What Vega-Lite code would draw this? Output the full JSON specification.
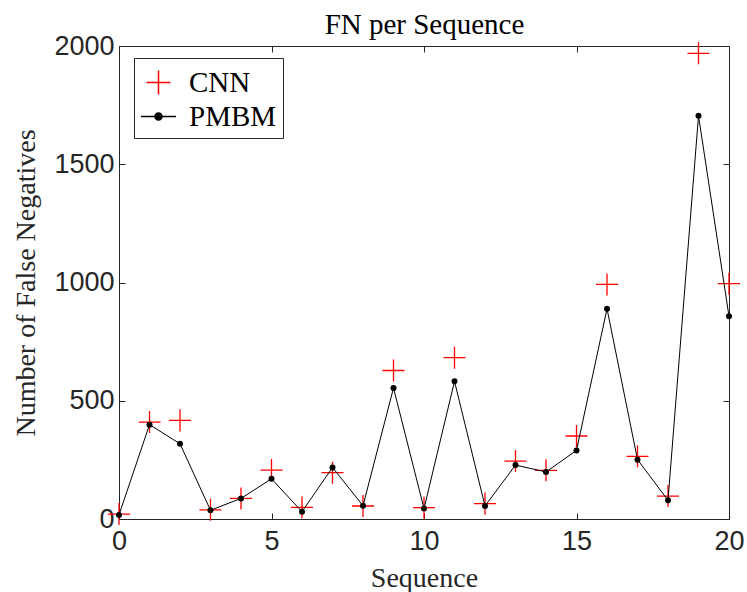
{
  "$schema": "https://vega.github.io/schema/vega-lite/v6.json",
  "width": 610,
  "height": 473,
  "autosize": {"type": "none"},
  "padding": {"left": 119, "top": 46, "right": 18, "bottom": 73},
  "background": "white",
  "config": {
    "view": {"stroke": "#262626", "strokeWidth": 1},
    "axis": {
      "domainColor": "#262626",
      "tickColor": "#262626",
      "labelColor": "#262626",
      "labelFont": "Liberation Sans",
      "labelFontSize": 27,
      "labelFlush": false,
      "labelOverlap": false,
      "titleFont": "Liberation Serif",
      "titleFontSize": 28,
      "titleFontWeight": "normal",
      "titleColor": "#262626",
      "grid": false
    }
  },
  "data": {
    "values": [
      {"seq": 0, "series": "CNN", "value": 21},
      {"seq": 1, "series": "CNN", "value": 410},
      {"seq": 2, "series": "CNN", "value": 417},
      {"seq": 3, "series": "CNN", "value": 39},
      {"seq": 4, "series": "CNN", "value": 87},
      {"seq": 5, "series": "CNN", "value": 207},
      {"seq": 6, "series": "CNN", "value": 49},
      {"seq": 7, "series": "CNN", "value": 196},
      {"seq": 8, "series": "CNN", "value": 55},
      {"seq": 9, "series": "CNN", "value": 628},
      {"seq": 10, "series": "CNN", "value": 48},
      {"seq": 11, "series": "CNN", "value": 682},
      {"seq": 12, "series": "CNN", "value": 65},
      {"seq": 13, "series": "CNN", "value": 245},
      {"seq": 14, "series": "CNN", "value": 206},
      {"seq": 15, "series": "CNN", "value": 351},
      {"seq": 16, "series": "CNN", "value": 992},
      {"seq": 17, "series": "CNN", "value": 265},
      {"seq": 18, "series": "CNN", "value": 97},
      {"seq": 19, "series": "CNN", "value": 1969},
      {"seq": 20, "series": "CNN", "value": 995},
      {"seq": 0, "series": "PMBM", "value": 17},
      {"seq": 1, "series": "PMBM", "value": 399},
      {"seq": 2, "series": "PMBM", "value": 318},
      {"seq": 3, "series": "PMBM", "value": 37},
      {"seq": 4, "series": "PMBM", "value": 87},
      {"seq": 5, "series": "PMBM", "value": 170},
      {"seq": 6, "series": "PMBM", "value": 31},
      {"seq": 7, "series": "PMBM", "value": 218},
      {"seq": 8, "series": "PMBM", "value": 56},
      {"seq": 9, "series": "PMBM", "value": 554},
      {"seq": 10, "series": "PMBM", "value": 44},
      {"seq": 11, "series": "PMBM", "value": 582},
      {"seq": 12, "series": "PMBM", "value": 55},
      {"seq": 13, "series": "PMBM", "value": 228},
      {"seq": 14, "series": "PMBM", "value": 199},
      {"seq": 15, "series": "PMBM", "value": 290},
      {"seq": 16, "series": "PMBM", "value": 889},
      {"seq": 17, "series": "PMBM", "value": 251},
      {"seq": 18, "series": "PMBM", "value": 79},
      {"seq": 19, "series": "PMBM", "value": 1705},
      {"seq": 20, "series": "PMBM", "value": 857}
    ]
  },
  "layer": [
    {
      "transform": [{"filter": "datum.series === 'CNN'"}],
      "mark": {"type": "point", "size": 1030, "filled": false, "strokeWidth": 1.3, "opacity": 1, "clip": false},
      "encoding": {
        "x": {
          "field": "seq", "type": "quantitative",
          "scale": {"domain": [0, 20], "nice": false, "zero": false},
          "axis": {
            "orient": "bottom", "values": [0, 5, 10, 15, 20], "tickSize": -6, "labelPadding": 15,
            "title": "Sequence", "titleX": 305, "titleY": 67, "titleBaseline": "alphabetic", "titleAnchor": "middle", "titleAlign": "center"
          }
        },
        "y": {
          "field": "value", "type": "quantitative",
          "scale": {"domain": [0, 2000], "nice": false},
          "axis": {
            "orient": "left", "values": [0, 500, 1000, 1500, 2000], "format": "d", "tickSize": -6, "labelPadding": 11,
            "title": "Number of False Negatives", "titleX": -85, "titleY": 236.5, "titleAngle": -90, "titleBaseline": "alphabetic", "titleAlign": "center"
          }
        },
        "color": {
          "field": "series", "type": "nominal",
          "scale": {"domain": ["CNN", "PMBM"], "range": ["#ff0000", "#000000"]},
          "legend": {
            "title": null,
            "orient": "none",
            "legendX": 15,
            "legendY": 12,
            "fillColor": "white",
            "strokeColor": "#262626",
            "padding": 6,
            "labelFont": "Liberation Serif",
            "labelFontSize": 29,
            "labelColor": "#000000",
            "labelOffset": 12,
            "symbolSize": 1225,
            "rowPadding": 0,
            "labelLimit": 300,
            "encode": {
              "symbols": {
                "fill": {"value": {"signal": "datum.value === 'PMBM' ? '#000000' : 'transparent'"}},
                "stroke": {"value": {"signal": "datum.value === 'PMBM' ? '#000000' : '#ff0000'"}},
                "strokeWidth": {"value": {"signal": "datum.value === 'PMBM' ? 1 : 1.3"}},
                "opacity": {"value": 1}
              }
            }
          }
        },
        "shape": {
          "field": "series", "type": "nominal",
          "scale": {"domain": ["CNN", "PMBM"], "range": ["M-0.686,0L0.686,0M0,-0.686L0,0.686", "M-1,0L1,0M-0.2,0A0.2,0.2,0,1,1,0.2,0A0.2,0.2,0,1,1,-0.2,0Z"]},
          "legend": {
            "title": null,
            "orient": "none",
            "legendX": 15,
            "legendY": 12,
            "fillColor": "white",
            "strokeColor": "#262626",
            "padding": 6,
            "labelFont": "Liberation Serif",
            "labelFontSize": 29,
            "labelColor": "#000000",
            "labelOffset": 12,
            "symbolSize": 1225,
            "rowPadding": 0,
            "labelLimit": 300,
            "encode": {
              "symbols": {
                "fill": {"value": {"signal": "datum.value === 'PMBM' ? '#000000' : 'transparent'"}},
                "stroke": {"value": {"signal": "datum.value === 'PMBM' ? '#000000' : '#ff0000'"}},
                "strokeWidth": {"value": {"signal": "datum.value === 'PMBM' ? 1 : 1.3"}},
                "opacity": {"value": 1}
              }
            }
          }
        }
      }
    },
    {
      "transform": [{"filter": "datum.series === 'PMBM'"}],
      "mark": {"type": "line", "color": "#000000", "strokeWidth": 1, "clip": false},
      "encoding": {
        "x": {"field": "seq", "type": "quantitative", "axis": null},
        "y": {"field": "value", "type": "quantitative", "axis": null}
      }
    },
    {
      "transform": [{"filter": "datum.series === 'PMBM'"}],
      "mark": {"type": "point", "shape": "circle", "size": 36, "filled": true, "opacity": 1, "clip": false},
      "encoding": {
        "x": {"field": "seq", "type": "quantitative", "axis": null},
        "y": {"field": "value", "type": "quantitative", "axis": null},
        "color": {"field": "series", "type": "nominal", "legend": null}
      }
    },
    {
      "mark": {"type": "point", "opacity": 0},
      "encoding": {
        "x": {
          "field": "seq", "type": "quantitative",
          "axis": {
            "orient": "top", "values": [0, 5, 10, 15, 20], "tickSize": -6, "labels": false, "domain": false,
            "title": "FN per Sequence", "titleFont": "Liberation Serif", "titleFontSize": 29, "titleColor": "#000000",
            "titleX": 305, "titleY": -13, "titleBaseline": "alphabetic", "titleAlign": "center", "titleAnchor": "middle"
          }
        },
        "y": {
          "field": "value", "type": "quantitative",
          "axis": {"orient": "right", "values": [0, 500, 1000, 1500, 2000], "tickSize": -6, "labels": false, "domain": false, "title": null}
        }
      }
    }
  ]
}
